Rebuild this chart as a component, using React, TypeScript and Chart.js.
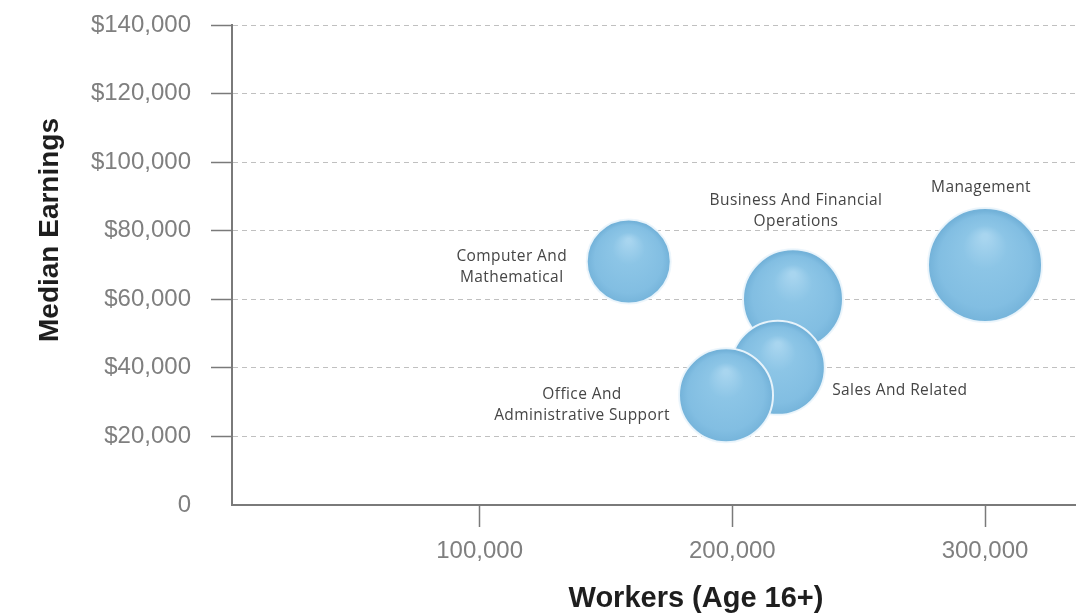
import React, { useEffect, useRef } from "react";
import { Chart, registerables } from "chart.js";

Chart.register(...registerables);

// ---- Data ----
const categories = [
  "Computer And Mathematical",
  "Business And Financial Operations",
  "Sales And Related",
  "Office And Administrative Support",
  "Management",
];
const categoryLines = [
  ["Computer And", "Mathematical"],
  ["Business And Financial", "Operations"],
  ["Sales And Related"],
  ["Office And", "Administrative Support"],
  ["Management"],
];
const workers = [159000, 224000, 218000, 197500, 300000];
const medianEarnings = [71000, 60000, 40000, 32000, 70000];
const bubbleSize = [42, 50, 47, 47, 57];
const xTicks = [100000, 200000, 300000];
const yTicks = [0, 20000, 40000, 60000, 80000, 100000, 120000, 140000];

// ---- Layout / style (not data) ----
const labelOffsets: [number, number][] = [
  [-117, 6],
  [3, -88],
  [122, 23],
  [-144, 10],
  [-4, -77],
];
const LABEL_LINE = 21;
const AXIS_GREY = "#7a7a7a";
const TICK_TEXT = "#7f7f7f";

const fmtMoney = (v: number) => (v === 0 ? "0" : "$" + v.toLocaleString("en-US"));

const zeroPadding = (s: any) => {
  s.paddingTop = 0;
  s.paddingBottom = 0;
  s.paddingLeft = 0;
  s.paddingRight = 0;
};

const bubbleLabels = {
  id: "bubbleLabels",
  afterDatasetsDraw(chart: any) {
    const ctx = chart.ctx;
    const meta = chart.getDatasetMeta(0);
    ctx.save();
    ctx.font = "15.5px 'Open Sans'";
    try {
      (ctx as any).letterSpacing = "0.4px";
    } catch (e) {}
    ctx.fillStyle = "#454545";
    ctx.textAlign = "center";
    ctx.textBaseline = "middle";
    meta.data.forEach((el: any, i: number) => {
      const lines = categoryLines[i];
      const [dx, dy] = labelOffsets[i];
      const cx = el.x + dx;
      const cy = el.y + dy;
      const start = cy - ((lines.length - 1) * LABEL_LINE) / 2;
      lines.forEach((t, j) => ctx.fillText(t, cx, start + j * LABEL_LINE));
    });
    ctx.restore();
  },
};

const axisTitles = {
  id: "axisTitles",
  afterDraw(chart: any) {
    const ctx = chart.ctx;
    const area = chart.chartArea;
    ctx.save();
    ctx.fillStyle = "#1e1e1e";
    ctx.textAlign = "center";
    ctx.textBaseline = "alphabetic";
    ctx.font = "bold 29px 'Liberation Sans'";
    ctx.fillText("Workers (Age 16+)", area.left + 464, chart.height - 8);
    ctx.translate(58, area.top + 205);
    ctx.rotate(-Math.PI / 2);
    ctx.font = "bold 28px 'Liberation Sans'";
    ctx.fillText("Median Earnings", 0, 0);
    ctx.restore();
  },
};

export default function App() {
  const ref = useRef<HTMLCanvasElement | null>(null);

  useEffect(() => {
    if (!ref.current) return;
    const chart = new Chart(ref.current, {
      type: "bubble",
      data: {
        labels: categories,
        datasets: [
          {
            label: "Occupations",
            data: workers.map((w, i) => ({ x: w, y: medianEarnings[i], r: bubbleSize[i] })),
            backgroundColor: (c: any) => {
              const chart = c.chart;
              if (c.type !== "data" || !chart.chartArea || !c.raw) return "#82bfe2";
              const x = chart.scales.x.getPixelForValue(c.raw.x);
              const y = chart.scales.y.getPixelForValue(c.raw.y);
              const r = c.raw.r;
              const g = chart.ctx.createRadialGradient(x, y - r * 0.5, r * 0.05, x, y + r * 0.05, r);
              g.addColorStop(0, "#a8d5ef");
              g.addColorStop(0.35, "#8cc5e6");
              g.addColorStop(0.8, "#82bee2");
              g.addColorStop(1, "#73b2d9");
              return g;
            },
            borderColor: "rgba(236,246,252,0.95)",
            borderWidth: 2,
            hoverBorderWidth: 2,
          },
        ],
      },
      options: {
        animation: false,
        responsive: true,
        maintainAspectRatio: false,
        layout: { autoPadding: false, padding: { top: 25, right: 0, left: 0, bottom: 0 } },
        plugins: {
          legend: { display: false },
          tooltip: { enabled: false },
        },
        scales: {
          x: {
            type: "linear",
            min: 2000,
            max: 336000,
            afterBuildTicks: (s: any) => {
              s.ticks = xTicks.map((v) => ({ value: v }));
            },
            afterFit: (s: any) => {
              s.height = 110;
              zeroPadding(s);
            },
            grid: {
              drawOnChartArea: false,
              drawTicks: true,
              tickLength: 22,
              tickColor: AXIS_GREY,
              tickWidth: 1.5,
            },
            border: { color: AXIS_GREY, width: 2 },
            ticks: {
              color: TICK_TEXT,
              font: { family: "'Liberation Sans'", size: 24 },
              padding: 10,
              maxRotation: 0,
              callback: (v: any) => Number(v).toLocaleString("en-US"),
            },
          },
          y: {
            type: "linear",
            min: 0,
            max: 140000,
            afterBuildTicks: (s: any) => {
              s.ticks = yTicks.map((v) => ({ value: v }));
            },
            afterFit: (s: any) => {
              s.width = 232;
              zeroPadding(s);
            },
            grid: {
              color: "#c0c0c0",
              lineWidth: 1,
              drawTicks: true,
              tickLength: 21,
              tickColor: (c: any) => (c.tick && c.tick.value === 0 ? "rgba(0,0,0,0)" : AXIS_GREY),
              tickWidth: 1.5,
              tickBorderDash: [],
            },
            border: { color: AXIS_GREY, width: 2, dash: [5, 4] },
            ticks: {
              color: TICK_TEXT,
              font: { family: "'Liberation Sans'", size: 24 },
              padding: 20,
              callback: (v: any) => fmtMoney(Number(v)),
            },
          },
        },
      },
      plugins: [bubbleLabels, axisTitles],
    });
    return () => chart.destroy();
  }, []);

  return (
    <div style={{ position: "absolute", left: 0, top: 0, width: 1076, height: 615, background: "#fff" }}>
      <canvas ref={ref} />
    </div>
  );
}
